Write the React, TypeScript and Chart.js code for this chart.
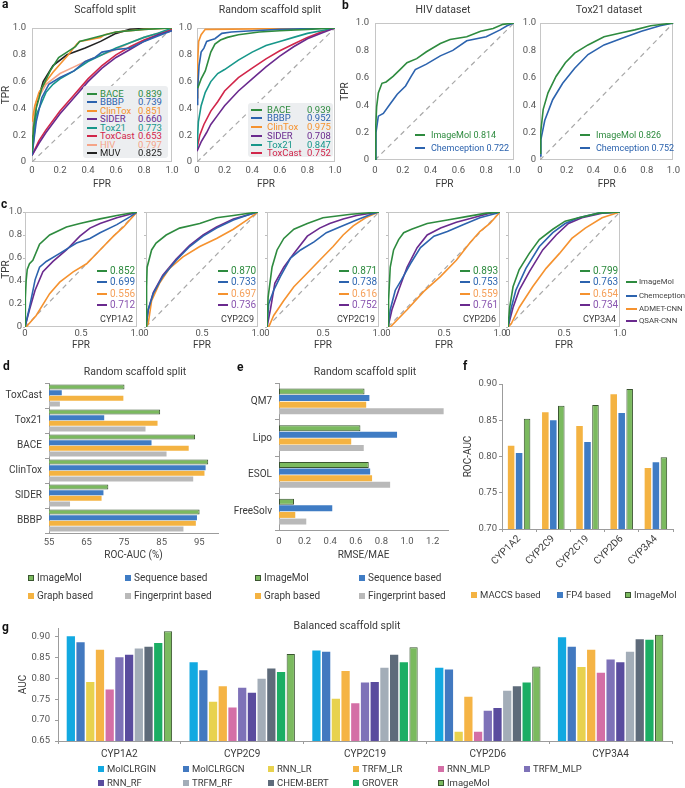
import React, { useEffect, useRef } from 'react';
import { Chart, registerables } from 'chart.js';

Chart.register(...registerables);

const W = 685;
const H = 788;
const FONT = 'Roboto, "Noto Sans", "DejaVu Sans", sans-serif';
const TXT = '#3a3a3a';
const TICK = '#555555';
const AX = '#9c9c9c';

// ---------- colours ----------
const GREEN = '#2E8B3F';
const BLUE = '#2C63AE';
const ORANGE = '#F5922F';
const PURPLE = '#6A2A8E';
const TEAL = '#17978A';
const RED = '#D1264A';
const SALMON = '#F5A488';
const BLACK = '#222222';

// ---------- panel a: Scaffold split ----------
const scafNames = ['BACE', 'BBBP', 'ClinTox', 'SIDER', 'Tox21', 'ToxCast', 'HIV', 'MUV'];
const scafAUC = [0.839, 0.739, 0.851, 0.66, 0.773, 0.653, 0.797, 0.825];
const scafBACE = [[0, 0.07], [0.01, 0.25], [0.03, 0.4], [0.07, 0.55], [0.13, 0.68], [0.19, 0.78], [0.25, 0.82], [0.31, 0.86], [0.34, 0.9], [0.49, 0.94], [0.6, 0.97], [0.8, 0.99], [1, 1]];
const scafBBBP = [[0, 0.05], [0.03, 0.3], [0.07, 0.48], [0.12, 0.58], [0.2, 0.63], [0.3, 0.68], [0.38, 0.75], [0.45, 0.78], [0.5, 0.82], [0.6, 0.84], [0.7, 0.85], [0.8, 0.9], [0.9, 0.94], [1, 0.98]];
const scafClinTox = [[0, 0.3], [0.02, 0.42], [0.05, 0.52], [0.1, 0.6], [0.15, 0.67], [0.2, 0.73], [0.26, 0.8], [0.32, 0.88], [0.34, 0.9], [0.4, 0.91], [0.49, 0.93], [0.52, 0.95], [0.6, 0.97], [0.8, 0.99], [1, 1]];
const scafSIDER = [[0, 0.05], [0.05, 0.14], [0.1, 0.22], [0.2, 0.36], [0.3, 0.48], [0.4, 0.6], [0.5, 0.7], [0.6, 0.78], [0.7, 0.84], [0.8, 0.9], [0.9, 0.95], [1, 0.98]];
const scafTox21 = [[0, 0.05], [0.03, 0.35], [0.1, 0.52], [0.15, 0.58], [0.2, 0.62], [0.3, 0.68], [0.4, 0.75], [0.5, 0.8], [0.6, 0.85], [0.7, 0.89], [0.8, 0.93], [0.9, 0.96], [1, 1]];
const scafToxCast = [[0, 0.05], [0.05, 0.16], [0.1, 0.24], [0.2, 0.38], [0.3, 0.5], [0.4, 0.62], [0.5, 0.72], [0.6, 0.8], [0.7, 0.86], [0.8, 0.91], [0.9, 0.95], [1, 0.99]];
const scafHIV = [[0, 0.2], [0.03, 0.45], [0.1, 0.58], [0.2, 0.66], [0.3, 0.71], [0.4, 0.76], [0.5, 0.8], [0.6, 0.84], [0.7, 0.89], [0.8, 0.93], [0.9, 0.96], [1, 0.99]];
const scafMUV = [[0, 0.07], [0.01, 0.25], [0.03, 0.42], [0.08, 0.6], [0.15, 0.72], [0.25, 0.8], [0.38, 0.85], [0.49, 0.9], [0.6, 0.96], [0.7, 0.99], [0.85, 1], [1, 1]];

// ---------- panel a: Random scaffold split ----------
const randNames = ['BACE', 'BBBP', 'ClinTox', 'SIDER', 'Tox21', 'ToxCast'];
const randAUC = [0.939, 0.952, 0.975, 0.708, 0.847, 0.752];
const randBACE = [[0.005, 0.55], [0.03, 0.62], [0.06, 0.68], [0.08, 0.75], [0.1, 0.82], [0.13, 0.88], [0.17, 0.91], [0.22, 0.93], [0.3, 0.95], [0.45, 0.97], [0.6, 0.98], [0.8, 0.99], [1, 1]];
const randBBBP = [[0, 0.43], [0.005, 0.55], [0.015, 0.72], [0.03, 0.82], [0.05, 0.85], [0.07, 0.9], [0.1, 0.91], [0.13, 0.92], [0.18, 0.96], [0.25, 0.97], [0.4, 0.98], [0.6, 0.99], [1, 1]];
const randClinTox = [[0, 0.48], [0.005, 0.75], [0.012, 0.9], [0.03, 0.95], [0.06, 0.99], [0.1, 0.99], [1, 1]];
const randSIDER = [[0, 0.08], [0.03, 0.15], [0.07, 0.22], [0.1, 0.28], [0.15, 0.35], [0.2, 0.42], [0.3, 0.53], [0.4, 0.62], [0.5, 0.71], [0.6, 0.79], [0.7, 0.86], [0.8, 0.92], [0.9, 0.96], [1, 1]];
const randTox21 = [[0, 0.1], [0.01, 0.3], [0.03, 0.42], [0.06, 0.52], [0.1, 0.6], [0.15, 0.66], [0.2, 0.69], [0.3, 0.76], [0.4, 0.82], [0.5, 0.87], [0.6, 0.9], [0.7, 0.93], [0.8, 0.96], [0.9, 0.98], [1, 1]];
const randToxCast = [[0, 0.1], [0.02, 0.2], [0.05, 0.28], [0.1, 0.38], [0.15, 0.45], [0.2, 0.53], [0.3, 0.63], [0.4, 0.7], [0.5, 0.77], [0.6, 0.83], [0.7, 0.88], [0.8, 0.93], [0.9, 0.97], [1, 1]];

// ---------- panel b ----------
const hivAUC = [0.814, 0.722];
const hivImageMol = [[0, 0], [0.005, 0.24], [0.012, 0.39], [0.024, 0.49], [0.05, 0.56], [0.08, 0.57], [0.13, 0.61], [0.18, 0.66], [0.23, 0.71], [0.3, 0.74], [0.37, 0.79], [0.47, 0.85], [0.54, 0.88], [0.66, 0.9], [0.76, 0.94], [0.85, 0.96], [0.92, 0.99], [1, 1]];
const hivChemception = [[0, 0], [0.007, 0.2], [0.024, 0.32], [0.06, 0.34], [0.11, 0.41], [0.16, 0.48], [0.22, 0.54], [0.26, 0.61], [0.29, 0.66], [0.37, 0.7], [0.47, 0.76], [0.56, 0.8], [0.66, 0.87], [0.8, 0.9], [0.9, 0.95], [0.95, 0.98], [1, 1]];
const toxAUC = [0.826, 0.752];
const toxImageMol = [[0, 0.05], [0.005, 0.2], [0.024, 0.37], [0.06, 0.49], [0.12, 0.61], [0.19, 0.71], [0.26, 0.78], [0.36, 0.84], [0.48, 0.9], [0.62, 0.93], [0.71, 0.95], [0.83, 0.98], [1, 1]];
const toxChemception = [[0, 0.03], [0.007, 0.15], [0.036, 0.29], [0.095, 0.44], [0.17, 0.56], [0.26, 0.67], [0.36, 0.77], [0.48, 0.84], [0.62, 0.89], [0.76, 0.94], [0.9, 0.98], [1, 1]];

// ---------- panel c ----------
const cNames = ['CYP1A2', 'CYP2C9', 'CYP2C19', 'CYP2D6', 'CYP3A4'];
const cModels = ['ImageMol', 'Chemception', 'ADMET-CNN', 'QSAR-CNN'];
const cAUC = [
  [0.852, 0.699, 0.556, 0.712],
  [0.87, 0.733, 0.697, 0.736],
  [0.871, 0.738, 0.616, 0.752],
  [0.893, 0.753, 0.559, 0.761],
  [0.799, 0.763, 0.654, 0.734],
];
const cyp1a2ImageMol = [[0, 0], [0.003, 0.25], [0.01, 0.4], [0.02, 0.5], [0.04, 0.55], [0.07, 0.58], [0.13, 0.72], [0.22, 0.8], [0.37, 0.87], [0.49, 0.9], [0.67, 0.94], [0.82, 0.97], [1, 1]];
const cyp1a2Chemception = [[0, 0], [0.04, 0.17], [0.09, 0.41], [0.13, 0.52], [0.19, 0.57], [0.31, 0.64], [0.46, 0.73], [0.58, 0.77], [0.67, 0.82], [0.82, 0.89], [0.94, 0.96], [1, 1]];
const cyp1a2ADMET = [[0, 0], [0.01, 0], [0.1, 0.1], [0.22, 0.29], [0.31, 0.39], [0.43, 0.48], [0.55, 0.55], [0.67, 0.67], [0.79, 0.79], [0.88, 0.87], [1, 1]];
const cyp1a2QSAR = [[0, 0], [0.04, 0.15], [0.09, 0.32], [0.16, 0.48], [0.25, 0.57], [0.37, 0.67], [0.49, 0.79], [0.58, 0.86], [0.67, 0.9], [0.82, 0.95], [0.97, 0.99], [1, 1]];
const cyp2c9ImageMol = [[0, 0], [0.005, 0.35], [0.01, 0.52], [0.05, 0.67], [0.09, 0.73], [0.18, 0.8], [0.3, 0.86], [0.48, 0.9], [0.63, 0.95], [0.78, 0.97], [1, 1]];
const cyp2c9Chemception = [[0, 0], [0.02, 0.15], [0.065, 0.29], [0.15, 0.44], [0.27, 0.58], [0.39, 0.7], [0.51, 0.79], [0.63, 0.86], [0.78, 0.93], [0.93, 0.98], [1, 1]];
const cyp2c9ADMET = [[0, 0], [0.02, 0.03], [0.05, 0.23], [0.12, 0.38], [0.21, 0.51], [0.33, 0.61], [0.48, 0.7], [0.63, 0.77], [0.78, 0.85], [0.9, 0.93], [1, 1]];
const cyp2c9QSAR = [[0, 0], [0.02, 0.15], [0.065, 0.3], [0.15, 0.45], [0.27, 0.59], [0.39, 0.71], [0.51, 0.8], [0.63, 0.87], [0.78, 0.94], [0.93, 0.98], [1, 1]];
const cyp2c19ImageMol = [[0, 0], [0.01, 0.26], [0.045, 0.52], [0.09, 0.67], [0.15, 0.77], [0.24, 0.85], [0.36, 0.9], [0.5, 0.95], [0.75, 0.98], [1, 1]];
const cyp2c19Chemception = [[0, 0], [0.015, 0.2], [0.06, 0.32], [0.12, 0.44], [0.21, 0.6], [0.3, 0.67], [0.42, 0.74], [0.53, 0.82], [0.65, 0.87], [0.8, 0.93], [0.93, 0.98], [1, 1]];
const cyp2c19ADMET = [[0, 0], [0.015, 0], [0.06, 0.1], [0.15, 0.23], [0.24, 0.35], [0.36, 0.47], [0.47, 0.58], [0.59, 0.7], [0.68, 0.8], [0.77, 0.88], [0.88, 0.95], [1, 1]];
const cyp2c19QSAR = [[0, 0], [0.03, 0.15], [0.07, 0.38], [0.15, 0.52], [0.24, 0.64], [0.36, 0.79], [0.47, 0.86], [0.56, 0.9], [0.68, 0.94], [0.8, 0.97], [1, 1]];
const cyp2d6ImageMol = [[0, 0], [0.005, 0.23], [0.02, 0.52], [0.05, 0.67], [0.095, 0.76], [0.14, 0.82], [0.21, 0.85], [0.35, 0.9], [0.53, 0.93], [0.7, 0.96], [0.88, 0.99], [1, 1]];
const cyp2d6Chemception = [[0, 0], [0.02, 0.15], [0.065, 0.32], [0.12, 0.41], [0.2, 0.55], [0.29, 0.69], [0.41, 0.79], [0.53, 0.83], [0.67, 0.89], [0.82, 0.95], [0.97, 0.99], [1, 1]];
const cyp2d6ADMET = [[0, 0], [0.02, 0], [0.17, 0.15], [0.32, 0.31], [0.47, 0.44], [0.61, 0.58], [0.73, 0.73], [0.82, 0.83], [0.91, 0.9], [1, 1]];
const cyp2d6QSAR = [[0, 0], [0.035, 0.15], [0.095, 0.32], [0.17, 0.52], [0.26, 0.69], [0.35, 0.8], [0.47, 0.86], [0.61, 0.91], [0.76, 0.95], [0.91, 0.99], [1, 1]];
const cyp3a4ImageMol = [[0, 0], [0.015, 0.17], [0.045, 0.35], [0.1, 0.5], [0.19, 0.64], [0.28, 0.76], [0.4, 0.85], [0.51, 0.92], [0.63, 0.95], [0.81, 0.99], [1, 1]];
const cyp3a4Chemception = [[0, 0], [0.03, 0.17], [0.07, 0.32], [0.16, 0.51], [0.28, 0.7], [0.4, 0.82], [0.51, 0.9], [0.63, 0.95], [0.81, 0.99], [1, 1]];
const cyp3a4ADMET = [[0, 0], [0.03, 0.03], [0.1, 0.17], [0.22, 0.35], [0.34, 0.51], [0.46, 0.64], [0.57, 0.77], [0.69, 0.86], [0.84, 0.95], [1, 1]];
const cyp3a4QSAR = [[0, 0], [0.045, 0.17], [0.1, 0.32], [0.19, 0.48], [0.31, 0.67], [0.43, 0.8], [0.54, 0.9], [0.66, 0.95], [0.84, 0.99], [1, 1]];

// ---------- panel d ----------
const dCategories = ['ToxCast', 'Tox21', 'BACE', 'ClinTox', 'SIDER', 'BBBP'];
const dImageMol = [75.1, 84.6, 93.9, 97.4, 70.8, 95.1];
const dSequence = [58.4, 69.7, 82.3, 96.7, 69.5, 94.4];
const dGraph = [74.8, 83.9, 92.2, 96.4, 69.0, 94.1];
const dFingerprint = [57.9, 80.7, 86.3, 93.4, 60.6, 90.8];
const dTicks = [55, 65, 75, 85, 95];

// ---------- panel e ----------
const eCategories = ['QM7', 'Lipo', 'ESOL', 'FreeSolv'];
const eImageMol = [0.668, 0.636, 0.701, 0.117];
const eSequence = [0.706, 0.922, 0.712, 0.416];
const eGraph = [0.681, 0.564, 0.727, 0.127];
const eFingerprint = [1.286, 0.662, 0.868, 0.213];
const eTicks = [0, 0.2, 0.4, 0.6, 0.8, 1.0, 1.2];

// ---------- panel f ----------
const fCategories = ['CYP1A2', 'CYP2C9', 'CYP2C19', 'CYP2D6', 'CYP3A4'];
const fMACCS = [0.815, 0.861, 0.842, 0.886, 0.784];
const fFP4 = [0.805, 0.85, 0.82, 0.86, 0.792];
const fImageMol = [0.852, 0.87, 0.871, 0.893, 0.799];
const fTicks = [0.7, 0.75, 0.8, 0.85, 0.9];

// ---------- panel g ----------
const gGroups = ['CYP1A2', 'CYP2C9', 'CYP2C19', 'CYP2D6', 'CYP3A4'];
const gModels = ['MolCLRGIN', 'MolCLRGCN', 'RNN_LR', 'TRFM_LR', 'RNN_MLP', 'TRFM_MLP', 'RNN_RF', 'TRFM_RF', 'CHEM-BERT', 'GROVER', 'ImageMol'];
const gMolCLRGIN = [0.9, 0.838, 0.866, 0.825, 0.898];
const gMolCLRGCN = [0.886, 0.819, 0.863, 0.821, 0.875];
const gRNN_LR = [0.791, 0.744, 0.751, 0.672, 0.827];
const gTRFM_LR = [0.868, 0.781, 0.817, 0.756, 0.868];
const gRNN_MLP = [0.773, 0.73, 0.74, 0.672, 0.813];
const gTRFM_MLP = [0.85, 0.777, 0.79, 0.722, 0.845];
const gRNN_RF = [0.856, 0.765, 0.791, 0.729, 0.838];
const gTRFM_RF = [0.871, 0.799, 0.825, 0.77, 0.863];
const gCHEMBERT = [0.875, 0.823, 0.856, 0.781, 0.893];
const gGROVER = [0.884, 0.815, 0.838, 0.79, 0.892];
const gImageMol = [0.912, 0.858, 0.874, 0.828, 0.904];
const gTicks = [0.65, 0.7, 0.75, 0.8, 0.85, 0.9];

const IM_FILL = '#7BBA5F';
const IM_EDGE = '#3A5530';
const SEQ_FILL = '#3F7CC4';
const GRAPH_FILL = '#F4B342';
const FP_FILL = '#B9B9B9';
const gColors = ['#12A9E1', '#4279C0', '#E8D24E', '#F5B445', '#D46FA6', '#7E72B8', '#5A4C9E', '#A3ADB8', '#5E6B7A', '#1BAE64', IM_FILL];

// ---------- helpers ----------
const framePlugin = {
  id: 'frame',
  beforeDatasetsDraw(chart: any) {
    const { ctx, chartArea: a } = chart;
    ctx.save();
    ctx.strokeStyle = '#C6C6C6';
    ctx.lineWidth = 1;
    ctx.strokeRect(Math.round(a.left) + 0.5, Math.round(a.top) + 0.5, Math.round(a.right - a.left) - 1, Math.round(a.bottom - a.top) - 1);
    ctx.restore();
  },
};

const setTicks = (vals: number[]) => (sc: any) => {
  sc.ticks = vals.map((v) => ({ value: v }));
};
const fitW = (w: number) => (sc: any) => {
  sc.width = w;
};
const fitH = (h: number) => (sc: any) => {
  sc.height = h;
};

function baseOptions(x0: number, y0: number, x1: number, y1: number, yW: number, xH: number) {
  return {
    responsive: false,
    animation: false,
    devicePixelRatio: 1,
    events: [],
    layout: { padding: { left: x0 - yW, top: y0, right: W - x1, bottom: H - y1 - xH } },
    plugins: { legend: { display: false }, tooltip: { enabled: false }, title: { display: false } },
  };
}

interface RocSpec {
  x0: number; y0: number; x1: number; y1: number; yW: number; xH: number;
  xTicks: number[]; yLabels: boolean; yTitle: boolean; yPad: number; xPad: number; yTickLen: number;
  curves: { d: number[][]; c: string }[];
}

const fmt1 = (v: any) => (Number(v) === 0 ? '0' : Number(v).toFixed(1));

function rocConfig(s: RocSpec) {
  const tickFont = { family: FONT, size: 9.5 };
  return {
    type: 'line',
    data: {
      datasets: [
        ...s.curves.map((cv) => ({
          data: cv.d.map(([x, y]) => ({ x, y })),
          borderColor: cv.c,
          borderWidth: 1.6,
          pointRadius: 0,
          tension: 0,
          fill: false,
        })),
        { data: [{ x: 0, y: 0 }, { x: 1, y: 1 }], borderColor: '#A8A8A8', borderWidth: 1.2, borderDash: [5, 4], pointRadius: 0, fill: false },
      ],
    },
    options: {
      ...baseOptions(s.x0, s.y0, s.x1, s.y1, s.yW, s.xH),
      scales: {
        x: {
          type: 'linear', min: 0, max: 1,
          afterFit: fitH(s.xH),
          afterBuildTicks: setTicks(s.xTicks),
          grid: { display: false, drawTicks: false },
          border: { display: false },
          ticks: { autoSkip: false, maxRotation: 0, padding: s.xPad, font: tickFont, color: TICK, callback: fmt1 },
          title: { display: true, text: 'FPR', padding: 0, font: { family: FONT, size: 10 }, color: TXT },
        },
        y: {
          type: 'linear', min: 0, max: 1,
          afterFit: fitW(s.yW),
          afterBuildTicks: setTicks([0, 0.2, 0.4, 0.6, 0.8, 1]),
          grid: s.yTickLen > 0
            ? { display: true, drawOnChartArea: false, drawTicks: true, tickLength: s.yTickLen, color: '#BDBDBD' }
            : { display: false, drawTicks: false },
          border: { display: false },
          ticks: { display: s.yLabels, autoSkip: false, padding: s.yPad, font: tickFont, color: TICK, callback: fmt1 },
          title: { display: s.yTitle, text: 'TPR', padding: 0, font: { family: FONT, size: 10 }, color: TXT },
        },
      },
    },
    plugins: [framePlugin],
  };
}

const tickFontSm = { family: FONT, size: 9.5 };
const catFont = { family: FONT, size: 10 };
const axTitleFont = { family: FONT, size: 10 };

function hBarConfig(labels: string[], series: number[][], min: number, max: number, ticks: number[], title: string,
  box: number[], catPct: number, barPct: number, xPad: number, fmt: (v: any) => string) {
  const [x0, y0, x1, y1, yW, xH] = box;
  const fills = [IM_FILL, SEQ_FILL, GRAPH_FILL, FP_FILL];
  return {
    type: 'bar',
    data: {
      labels,
      datasets: series.map((d, i) => ({
        data: d,
        backgroundColor: fills[i],
        borderColor: i === 0 ? IM_EDGE : fills[i],
        borderWidth: i === 0 ? 1 : 0,
        borderSkipped: false,
      })),
    },
    options: {
      ...baseOptions(x0, y0, x1, y1, yW, xH),
      indexAxis: 'y',
      datasets: { bar: { categoryPercentage: catPct, barPercentage: barPct } },
      scales: {
        x: {
          type: 'linear', min, max,
          afterFit: fitH(xH),
          afterBuildTicks: setTicks(ticks),
          grid: { display: false, drawTicks: false },
          border: { display: true, color: AX, width: 1 },
          ticks: { autoSkip: false, maxRotation: 0, padding: xPad, font: tickFontSm, color: TICK, callback: fmt },
          title: { display: true, text: title, padding: 0, font: axTitleFont, color: TXT },
        },
        y: {
          afterFit: fitW(yW),
          grid: { display: true, drawOnChartArea: false, drawTicks: true, tickLength: 4, color: AX, offset: true },
          border: { display: true, color: AX, width: 1 },
          ticks: { autoSkip: false, padding: 3, font: catFont, color: TXT },
        },
      },
    },
  };
}

const dConfig = () => hBarConfig(dCategories, [dImageMol, dSequence, dGraph, dFingerprint], 55, 100, dTicks, 'ROC-AUC (%)',
  [49, 383, 218, 533, 46, 28.4], 0.9, 0.88, 4, (v) => String(v));

const eConfig = () => hBarConfig(eCategories, [eImageMol, eSequence, eGraph, eFingerprint], 0, 1.32, eTicks, 'RMSE/MAE',
  [279, 383, 448, 530, 48, 31.4], 0.72, 0.9, 6, fmt1);

const fConfig = () => ({
  type: 'bar',
  data: {
    labels: fCategories,
    datasets: [
      { data: fMACCS, backgroundColor: GRAPH_FILL, borderWidth: 0 },
      { data: fFP4, backgroundColor: SEQ_FILL, borderWidth: 0 },
      { data: fImageMol, backgroundColor: IM_FILL, borderColor: IM_EDGE, borderWidth: 1, borderSkipped: false },
    ],
  },
  options: {
    ...baseOptions(502, 384, 673, 529, 39.4, 50),
    datasets: { bar: { categoryPercentage: 0.7, barPercentage: 0.82 } },
    scales: {
      x: {
        afterFit: fitH(50),
        grid: { display: true, drawOnChartArea: false, drawTicks: true, tickLength: 3, color: AX, offset: true },
        border: { display: true, color: AX, width: 1 },
        ticks: { autoSkip: false, minRotation: 45, maxRotation: 45, padding: 1, font: catFont, color: TXT },
      },
      y: {
        min: 0.7, max: 0.9,
        afterFit: fitW(39.4),
        afterBuildTicks: setTicks(fTicks),
        grid: { display: true, drawOnChartArea: false, drawTicks: true, tickLength: 3, color: AX },
        border: { display: true, color: AX, width: 1 },
        ticks: { autoSkip: false, padding: 2, font: tickFontSm, color: TICK, callback: (v: any) => Number(v).toFixed(2) },
        title: { display: true, text: 'ROC-AUC', padding: 0, font: axTitleFont, color: TXT },
      },
    },
  },
});

const gSeries = [gMolCLRGIN, gMolCLRGCN, gRNN_LR, gTRFM_LR, gRNN_MLP, gTRFM_MLP, gRNN_RF, gTRFM_RF, gCHEMBERT, gGROVER, gImageMol];

const gConfig = () => ({
  type: 'bar',
  data: {
    labels: gGroups,
    datasets: gSeries.map((d, i) => ({
      data: d,
      backgroundColor: gColors[i],
      borderColor: i === 10 ? IM_EDGE : gColors[i],
      borderWidth: i === 10 ? 1 : 0,
      borderSkipped: false,
    })),
  },
  options: {
    ...baseOptions(58, 628, 672, 741, 40.4, 20),
    datasets: { bar: { categoryPercentage: 0.87, barPercentage: 0.85 } },
    scales: {
      x: {
        afterFit: fitH(20),
        grid: { display: true, drawOnChartArea: false, drawTicks: true, tickLength: 3, color: AX, offset: true },
        border: { display: true, color: AX, width: 1 },
        ticks: { autoSkip: false, maxRotation: 0, padding: 4, font: catFont, color: TXT },
      },
      y: {
        min: 0.65, max: 0.92,
        afterFit: fitW(40.4),
        afterBuildTicks: setTicks(gTicks),
        grid: { display: true, drawOnChartArea: false, drawTicks: true, tickLength: 3, color: AX },
        border: { display: true, color: AX, width: 1 },
        ticks: { autoSkip: false, padding: 5, font: tickFontSm, color: TICK, callback: (v: any) => Number(v).toFixed(2) },
        title: { display: true, text: 'AUC', padding: 0, font: axTitleFont, color: TXT },
      },
    },
  },
});

// ---------- components ----------
function ChartLayer({ make }: { make: () => any }) {
  const ref = useRef<HTMLCanvasElement | null>(null);
  useEffect(() => {
    if (!ref.current) return;
    const ch = new Chart(ref.current, make());
    return () => ch.destroy();
  }, []);
  return <canvas ref={ref} width={W} height={H} style={{ position: 'absolute', left: 0, top: 0, width: W, height: H }} />;
}

function Txt({ x, y, s = 9, c = TXT, a = 'l', b = false, children }: any) {
  const tx = a === 'c' ? '-50%' : a === 'r' ? '-100%' : '0';
  return (
    <div style={{ position: 'absolute', left: x, top: y, transform: `translate(${tx}, -50%)`, fontSize: s, color: c, fontWeight: b ? 700 : 400, lineHeight: 1, whiteSpace: 'nowrap' }}>
      {children}
    </div>
  );
}

function LineSw({ x, y, w, c }: any) {
  return <div style={{ position: 'absolute', left: x, top: y - 1, width: w, height: 2, background: c }} />;
}

function Sq({ x, y, c, edge }: any) {
  return <div style={{ position: 'absolute', left: x, top: y - 3, width: 6, height: 6, background: c, boxSizing: 'border-box', border: edge ? `1px solid ${edge}` : 'none' }} />;
}

const scafColors = [GREEN, BLUE, ORANGE, PURPLE, TEAL, RED, SALMON, BLACK];
const randColors = [GREEN, BLUE, ORANGE, PURPLE, TEAL, RED];
const cLineColors = [GREEN, BLUE, ORANGE, PURPLE];
const cTextColors = [GREEN, '#2F68B2', '#F5A05A', '#8A56B0'];
const cLefts = [25, 146, 267, 388, 508];
const cCurves = [
  [cyp1a2ImageMol, cyp1a2Chemception, cyp1a2ADMET, cyp1a2QSAR],
  [cyp2c9ImageMol, cyp2c9Chemception, cyp2c9ADMET, cyp2c9QSAR],
  [cyp2c19ImageMol, cyp2c19Chemception, cyp2c19ADMET, cyp2c19QSAR],
  [cyp2d6ImageMol, cyp2d6Chemception, cyp2d6ADMET, cyp2d6QSAR],
  [cyp3a4ImageMol, cyp3a4Chemception, cyp3a4ADMET, cyp3a4QSAR],
];

const aLeftConfig = () => rocConfig({
  x0: 32, y0: 28, x1: 172, y1: 162, yW: 32, xH: 28,
  xTicks: [0, 0.2, 0.4, 0.6, 0.8, 1], yLabels: true, yTitle: true, yPad: 6, xPad: 3, yTickLen: 0,
  curves: [scafBACE, scafBBBP, scafClinTox, scafSIDER, scafTox21, scafToxCast, scafHIV, scafMUV].map((d, i) => ({ d, c: scafColors[i] })),
});
const aRightConfig = () => rocConfig({
  x0: 197, y0: 28, x1: 335, y1: 162, yW: 25, xH: 28,
  xTicks: [0, 0.2, 0.4, 0.6, 0.8, 1], yLabels: true, yTitle: false, yPad: 5, xPad: 3, yTickLen: 0,
  curves: [randBACE, randBBBP, randClinTox, randSIDER, randTox21, randToxCast].map((d, i) => ({ d, c: randColors[i] })),
});
const bHivConfig = () => rocConfig({
  x0: 375, y0: 23, x1: 514, y1: 160, yW: 36, xH: 30,
  xTicks: [0, 0.2, 0.4, 0.6, 0.8, 1], yLabels: true, yTitle: true, yPad: 6, xPad: 5, yTickLen: 0,
  curves: [{ d: hivImageMol, c: GREEN }, { d: hivChemception, c: BLUE }],
});
const bToxConfig = () => rocConfig({
  x0: 540, y0: 23, x1: 680, y1: 160, yW: 25, xH: 30,
  xTicks: [0, 0.2, 0.4, 0.6, 0.8, 1], yLabels: true, yTitle: false, yPad: 4, xPad: 5, yTickLen: 0,
  curves: [{ d: toxImageMol, c: GREEN }, { d: toxChemception, c: BLUE }],
});
const cConfig = (i: number) => () => rocConfig({
  x0: cLefts[i], y0: 212, x1: cLefts[i] + 112, y1: 327, yW: i === 0 ? 25 : 10, xH: 24,
  xTicks: [0, 0.5, 1], yLabels: i === 0, yTitle: i === 0, yPad: 1, xPad: 1, yTickLen: 2,
  curves: cCurves[i].map((d, k) => ({ d, c: cLineColors[k] })),
});

export default function App() {
  const legendRowsA = scafNames.map((n, i) => {
    const y = 93.5 + i * 8.55;
    return (
      <React.Fragment key={'sa' + n}>
        <LineSw x={87} y={y} w={10} c={scafColors[i]} />
        <Txt x={100} y={y} s={9.5} c={scafColors[i]}>{n}</Txt>
        <Txt x={138} y={y} s={9.5} c={scafColors[i]}>{scafAUC[i].toFixed(3)}</Txt>
      </React.Fragment>
    );
  });
  const legendRowsR = randNames.map((n, i) => {
    const y = 109.5 + i * 8.75;
    return (
      <React.Fragment key={'ra' + n}>
        <LineSw x={251} y={y} w={11} c={randColors[i]} />
        <Txt x={267} y={y} s={9.5} c={randColors[i]}>{n}</Txt>
        <Txt x={307} y={y} s={9.5} c={randColors[i]}>{randAUC[i].toFixed(3)}</Txt>
      </React.Fragment>
    );
  });
  const cOverlays = cNames.map((n, i) => {
    const L = cLefts[i];
    return (
      <React.Fragment key={'c' + n}>
        {cAUC[i].map((v, k) => {
          const y = 271 + k * 11.3;
          return (
            <React.Fragment key={k}>
              <LineSw x={L + 72} y={y} w={10} c={cLineColors[k]} />
              <Txt x={L + 85} y={y} s={10} c={cTextColors[k]}>{v.toFixed(3)}</Txt>
            </React.Fragment>
          );
        })}
        <Txt x={L + 108} y={319} s={9} a="r">{n}</Txt>
      </React.Fragment>
    );
  });
  const gLegend = gModels.map((m, i) => {
    const col = i % 6;
    const row = Math.floor(i / 6);
    const xs = [98, 183, 268, 353, 438, 524];
    const y = row === 0 ? 769 : 783;
    return (
      <React.Fragment key={'g' + m}>
        <Sq x={xs[col]} y={y} c={gColors[i]} edge={i === 10 ? IM_EDGE : undefined} />
        <Txt x={xs[col] + 9} y={y} s={9.5}>{m}</Txt>
      </React.Fragment>
    );
  });

  return (
    <div style={{ position: 'absolute', left: 0, top: 0, width: W, height: H, overflow: 'hidden', background: '#ffffff', fontFamily: FONT }}>
      <ChartLayer make={aLeftConfig} />
      <ChartLayer make={aRightConfig} />
      <ChartLayer make={bHivConfig} />
      <ChartLayer make={bToxConfig} />
      {cLefts.map((_, i) => <ChartLayer key={'cc' + i} make={cConfig(i)} />)}
      <ChartLayer make={dConfig} />
      <ChartLayer make={eConfig} />
      <ChartLayer make={fConfig} />
      <ChartLayer make={gConfig} />

      {/* panel letters */}
      <Txt x={2} y={4} s={12} b c="#111">a</Txt>
      <Txt x={342} y={5} s={12} b c="#111">b</Txt>
      <Txt x={1} y={204} s={12} b c="#111">c</Txt>
      <Txt x={3} y={366} s={12} b c="#111">d</Txt>
      <Txt x={237} y={367} s={12} b c="#111">e</Txt>
      <Txt x={463} y={366} s={12} b c="#111">f</Txt>
      <Txt x={2} y={627} s={12} b c="#111">g</Txt>

      {/* titles */}
      <Txt x={105} y={10} s={10.5} a="c">Scaffold split</Txt>
      <Txt x={270} y={10} s={10.5} a="c">Random scaffold split</Txt>
      <Txt x={443} y={10} s={10.5} a="c">HIV dataset</Txt>
      <Txt x={609} y={10} s={10.5} a="c">Tox21 dataset</Txt>
      <Txt x={135} y={372} s={10.5} a="c">Random scaffold split</Txt>
      <Txt x={365} y={372} s={10.5} a="c">Random scaffold split</Txt>
      <Txt x={347} y={626} s={10.5} a="c">Balanced scaffold split</Txt>

      {/* panel a legends */}
      <div style={{ position: 'absolute', left: 83, top: 86, width: 85, height: 72, background: '#ECEEF0', borderRadius: 3 }} />
      {legendRowsA}
      <div style={{ position: 'absolute', left: 248, top: 103, width: 85, height: 54, background: '#ECEEF0', borderRadius: 3 }} />
      {legendRowsR}

      {/* panel b legends */}
      <LineSw x={415} y={135} w={10} c={GREEN} />
      <Txt x={431} y={135} s={9} c={GREEN}>ImageMol {hivAUC[0].toFixed(3)}</Txt>
      <LineSw x={415} y={148} w={10} c={BLUE} />
      <Txt x={431} y={148} s={9} c={BLUE}>Chemception {hivAUC[1].toFixed(3)}</Txt>
      <LineSw x={580} y={135} w={10} c={GREEN} />
      <Txt x={596} y={135} s={9} c={GREEN}>ImageMol {toxAUC[0].toFixed(3)}</Txt>
      <LineSw x={580} y={148} w={10} c={BLUE} />
      <Txt x={596} y={148} s={9} c={BLUE}>Chemception {toxAUC[1].toFixed(3)}</Txt>

      {/* panel c overlays */}
      {cOverlays}
      {cModels.map((m, k) => {
        const y = [282, 296, 309, 321][k];
        return (
          <React.Fragment key={'cl' + m}>
            <LineSw x={626} y={y} w={11} c={cLineColors[k]} />
            <Txt x={639} y={y} s={7.8} c="#444">{m}</Txt>
          </React.Fragment>
        );
      })}

      {/* panel d legend */}
      <Sq x={28} y={578} c={IM_FILL} edge={IM_EDGE} />
      <Txt x={37} y={578} s={10}>ImageMol</Txt>
      <Sq x={125} y={578} c={SEQ_FILL} />
      <Txt x={134} y={578} s={10}>Sequence based</Txt>
      <Sq x={28} y={596} c={GRAPH_FILL} />
      <Txt x={37} y={596} s={10}>Graph based</Txt>
      <Sq x={125} y={596} c={FP_FILL} />
      <Txt x={134} y={596} s={10}>Fingerprint based</Txt>

      {/* panel e legend */}
      <Sq x={255} y={578} c={IM_FILL} edge={IM_EDGE} />
      <Txt x={264} y={578} s={10}>ImageMol</Txt>
      <Sq x={359} y={578} c={SEQ_FILL} />
      <Txt x={368} y={578} s={10}>Sequence based</Txt>
      <Sq x={255} y={596} c={GRAPH_FILL} />
      <Txt x={264} y={596} s={10}>Graph based</Txt>
      <Sq x={359} y={596} c={FP_FILL} />
      <Txt x={368} y={596} s={10}>Fingerprint based</Txt>

      {/* panel f legend */}
      <Sq x={471} y={595} c={GRAPH_FILL} />
      <Txt x={480} y={595} s={9.5}>MACCS based</Txt>
      <Sq x={557} y={595} c={SEQ_FILL} />
      <Txt x={566} y={595} s={9.5}>FP4 based</Txt>
      <Sq x={625} y={595} c={IM_FILL} edge={IM_EDGE} />
      <Txt x={634} y={595} s={9.5}>ImageMol</Txt>

      {/* panel g legend */}
      {gLegend}
    </div>
  );
}
